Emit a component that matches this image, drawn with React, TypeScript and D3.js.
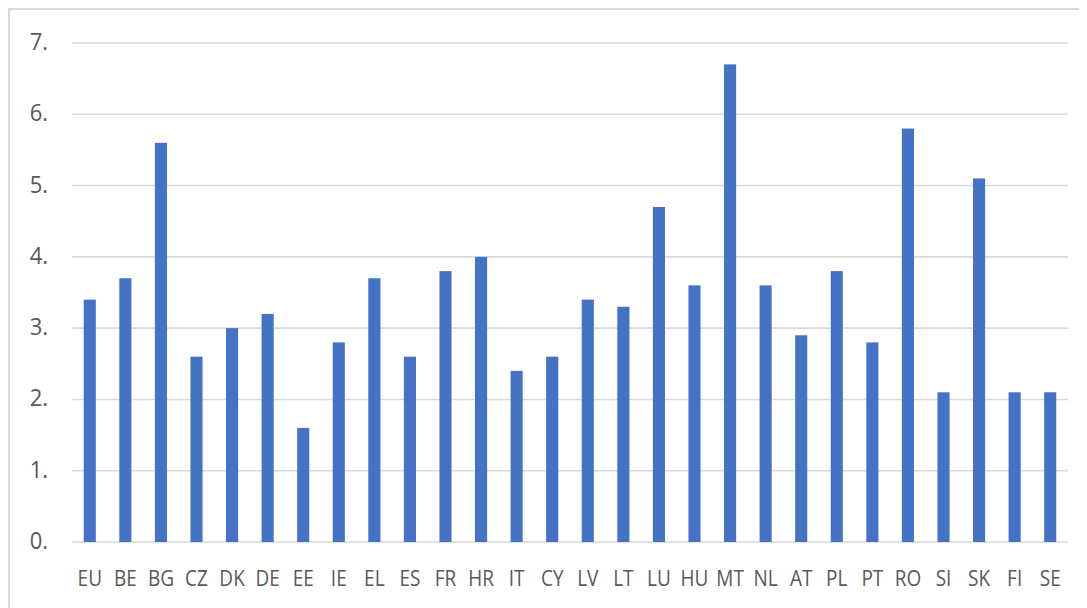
import React from "react";
import * as d3 from "d3";

const categories = ["EU","BE","BG","CZ","DK","DE","EE","IE","EL","ES","FR","HR","IT","CY","LV","LT","LU","HU","MT","NL","AT","PL","PT","RO","SI","SK","FI","SE"];
const values = [3.4,3.7,5.6,2.6,3.0,3.2,1.6,2.8,3.7,2.6,3.8,4.0,2.4,2.6,3.4,3.3,4.7,3.6,6.7,3.6,2.9,3.8,2.8,5.8,2.1,5.1,2.1,2.1];
const yTicks = [0,1,2,3,4,5,6,7];
const yTickLabels = ["0.","1.","2.","3.","4.","5.","6.","7."];

export default function App() {
  const W = 1079, H = 600;
  const x = d3.scaleBand<string>().domain(categories).range([64, 1060]).paddingInner(0.66).paddingOuter(0.33);
  const y = d3.scaleLinear().domain([0, 7]).range([534, 35]);
  const font = "'Open Sans', 'DejaVu Sans', sans-serif";
  return (
    <svg width={W} height={H} style={{ display: "block" }}>
      <rect x={1} y={1} width={1200} height={800} fill="#fff" stroke="#d9d9d9" strokeWidth={2} />
      {yTicks.map((t) => (
        <line key={"g" + t} x1={64} x2={1060} y1={y(t)} y2={y(t)} stroke="#d9d9d9" strokeWidth={1.6} />
      ))}
      {categories.map((c, i) => (
        <rect key={c} x={x(c)} y={y(values[i])} width={x.bandwidth()} height={y(0) - y(values[i])} fill="#4472C4" />
      ))}
      {yTicks.map((t, i) => (
        <text key={"t" + t} transform={`translate(40,${y(t) + 7}) scale(1,1.1)`} textAnchor="end" fontFamily={font} fontSize={22} fill="#595959">
          {yTickLabels[i]}
        </text>
      ))}
      {categories.map((c) => (
        <text key={"l" + c} transform={`translate(${(x(c) as number) + x.bandwidth() / 2},578) scale(1,1.15)`} textAnchor="middle" fontFamily={font} fontSize={19} fill="#595959">
          {c}
        </text>
      ))}
    </svg>
  );
}
